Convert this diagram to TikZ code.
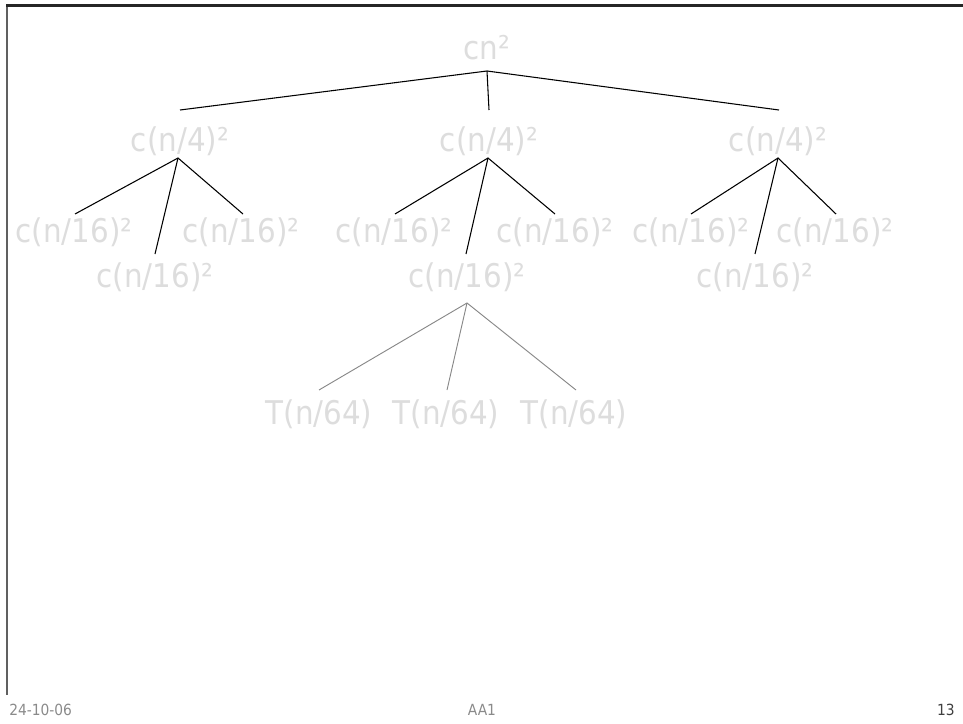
\documentclass[tikz,border=0pt]{standalone}
\usepackage{fontspec}
\setmainfont[FakeStretch=0.9]{DejaVu Sans}
\definecolor{termgray}{HTML}{DDDDDD}
\definecolor{footgray}{HTML}{8A8A8A}
\definecolor{pagegray}{HTML}{404040}
\definecolor{framegray}{HTML}{606060}
\definecolor{leafline}{HTML}{888888}
\begin{document}
\begin{tikzpicture}[x=0.75pt,y=-0.75pt,
  term/.style={text=termgray, font=\fontsize{24.5}{28}\selectfont, anchor=base, inner sep=0pt},
  foot/.style={font=\fontsize{11.5}{13}\selectfont, anchor=base, inner sep=0pt},
  edge/.style={black, line width=0.8pt},
  leafedge/.style={leafline, line width=0.7pt}]
\useasboundingbox (0,0) rectangle (963,724);
% slide frame
\draw[framegray, line width=1pt] (7,5) -- (7,695);
\draw[black!85, line width=1.6pt] (6,5.5) -- (963,5.5);

% labels
\node[term] (root) at (487,60) {cn²};
\node[term] (a) at (180,151) {c(n/4)²};
\node[term] (b) at (489,151) {c(n/4)²};
\node[term] (c) at (778,151) {c(n/4)²};
\node[term] (a1) at (74,242) {c(n/16)²};
\node[term] (a3) at (241,242) {c(n/16)²};
\node[term] (a2) at (155,287) {c(n/16)²};
\node[term] (b1) at (394,242) {c(n/16)²};
\node[term] (b3) at (555,242) {c(n/16)²};
\node[term] (b2) at (467,287) {c(n/16)²};
\node[term] (c1) at (691,242) {c(n/16)²};
\node[term] (c3) at (835,242) {c(n/16)²};
\node[term] (c2) at (755,287) {c(n/16)²};
\node[term] (t1) at (319,424) {T(n/64)};
\node[term] (t2) at (446,424) {T(n/64)};
\node[term] (t3) at (574,424) {T(n/64)};

% branch points under each parent and line ends above each child
\coordinate (root-j) at (487,71);
\coordinate (a-e) at (180,110);
\coordinate (b-e) at (489,110);
\coordinate (c-e) at (779,110);
\coordinate (a-j) at (178,158);
\coordinate (b-j) at (488,158);
\coordinate (c-j) at (778,158);
\coordinate (a1-e) at (75,214);
\coordinate (a2-e) at (155,254);
\coordinate (a3-e) at (243,214);
\coordinate (b1-e) at (395,214);
\coordinate (b2-e) at (466,254);
\coordinate (b3-e) at (555,214);
\coordinate (c1-e) at (691,214);
\coordinate (c2-e) at (755,254);
\coordinate (c3-e) at (836,214);
\coordinate (b2-j) at (467,303);
\coordinate (t1-e) at (319,390);
\coordinate (t2-e) at (447,390);
\coordinate (t3-e) at (576,390);

% tree edges
\draw[edge] (a-e) -- (root-j) -- (c-e);
\draw[edge] (root-j) -- (b-e);
\draw[edge] (a1-e) -- (a-j) -- (a3-e);
\draw[edge] (a-j) -- (a2-e);
\draw[edge] (b1-e) -- (b-j) -- (b3-e);
\draw[edge] (b-j) -- (b2-e);
\draw[edge] (c1-e) -- (c-j) -- (c3-e);
\draw[edge] (c-j) -- (c2-e);
\draw[leafedge] (t1-e) -- (b2-j) -- (t3-e);
\draw[leafedge] (b2-j) -- (t2-e);

% footer
\node[foot, text=footgray, anchor=base west] (date) at (9,715) {24-10-06};
\node[foot, text=footgray] (title) at (482,715) {AA1};
\node[foot, text=pagegray, anchor=base east] (page) at (955,715) {13};
\end{tikzpicture}
\end{document}
